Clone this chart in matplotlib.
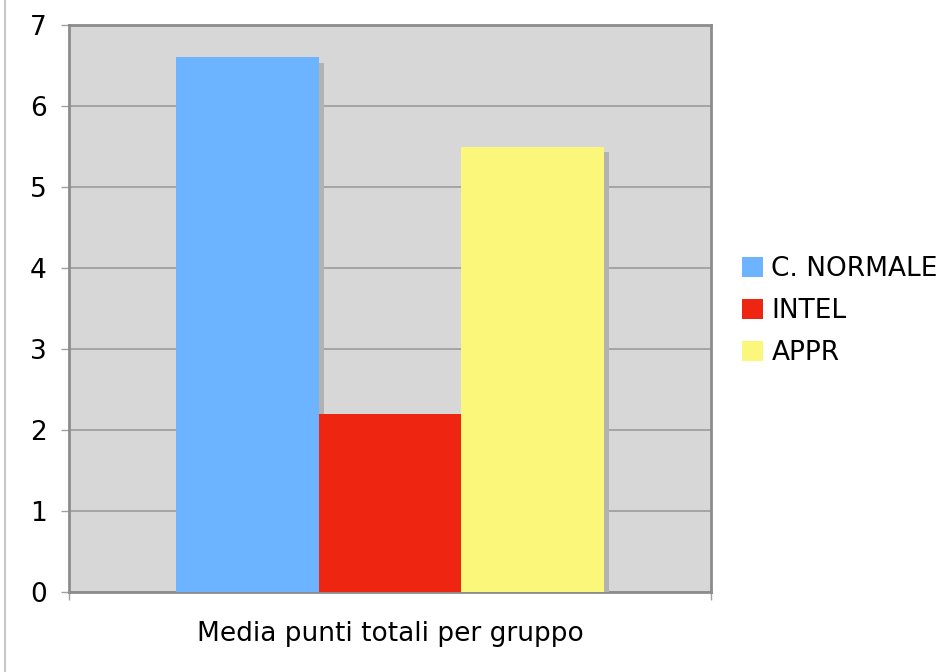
import matplotlib
matplotlib.use("Agg")
import matplotlib.pyplot as plt
import matplotlib.patheffects as pe
from matplotlib.lines import Line2D
from matplotlib.patches import Patch

# mean total points per group
gruppi = ["C. NORMALE", "INTEL", "APPR"]
medie = [6.6, 2.2, 5.5]
colori = ["#6cb4ff", "#ee2511", "#fbf77a"]
titolo_x = "Media punti totali per gruppo"
y_ticks = [0, 1, 2, 3, 4, 5, 6, 7]

fig = plt.figure(figsize=(9.46, 6.72), dpi=100)
ax = fig.add_axes([0.0729, 0.119, 0.6787, 0.8438])
ax.set_facecolor("#d7d7d7")

shadow = [pe.SimplePatchShadow(offset=(3.8, -3.8), shadow_rgbFace="#b2b2b2", alpha=1.0), pe.Normal()]
for i, (v, c) in enumerate(zip(medie, colori)):
    ax.bar(i, v, width=1.0, color=c, path_effects=shadow, zorder=3)

ax.set_xlim(-1.25, 3.25)
ax.set_ylim(0, 7)
ax.set_yticks(y_ticks)
ax.set_yticklabels([str(t) for t in y_ticks], fontsize=19)
ax.set_xticks([-1.25, 3.25])
ax.set_xticklabels(["", ""])
ax.tick_params(axis="y", length=6, width=1, color="#a0a0a0", pad=10)
ax.tick_params(axis="x", length=6, width=1, color="#a0a0a0")
ax.grid(axis="y", color="#a4a4a4", linewidth=1.4, zorder=1)
ax.set_axisbelow(True)
for s in ax.spines.values():
    s.set_color("#8c8c8c")
    s.set_linewidth(2)
ax.set_xlabel(titolo_x, fontsize=19, labelpad=11)

handles = [Patch(facecolor=c, edgecolor="none") for c in colori]
ax.legend(handles, gruppi, loc="center left", bbox_to_anchor=(0.7735, 0.537), bbox_transform=fig.transFigure,
          frameon=False, fontsize=19, handlelength=0.8, handleheight=0.8,
          handletextpad=0.3, labelspacing=0.6, borderaxespad=0)

# thin border on the left edge
fig.add_artist(Line2D([0.0055, 0.0055], [0, 1], transform=fig.transFigure, color="#c8c8c8", linewidth=1.5))

fig.savefig("out.png", dpi=100)
